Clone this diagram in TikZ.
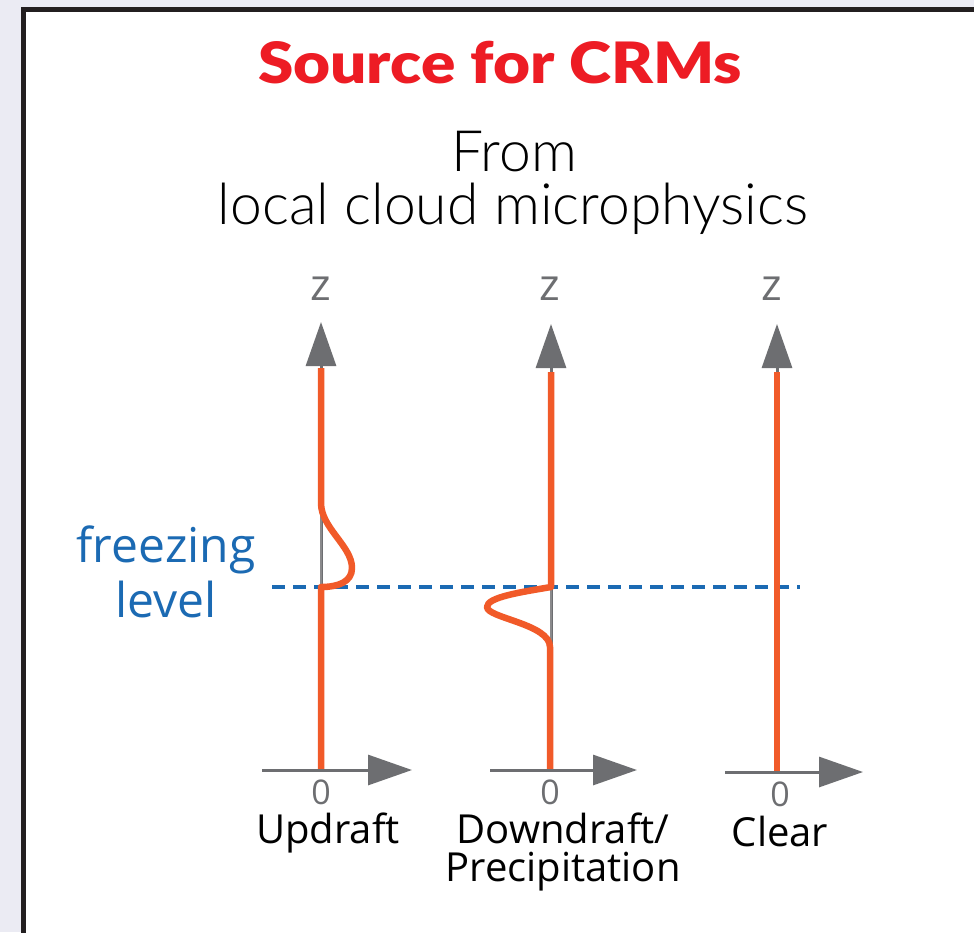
\documentclass[tikz,border=0pt]{standalone}
\usepackage{fontspec}
\usepackage{graphicx}
\usetikzlibrary{arrows.meta}
\newfontfamily\titlefont{Lato Black}
\newfontfamily\lightfont{Lato Light}
\newfontfamily\labelfont{Open Sans}
\definecolor{bgpanel}{HTML}{EBEBF3}
\definecolor{framecol}{HTML}{231F20}
\definecolor{titlered}{HTML}{ED1C24}
\definecolor{axisgray}{HTML}{6D6E71}
\definecolor{thingray}{HTML}{8A8A8C}
\definecolor{profileorange}{HTML}{F15A29}
\definecolor{freezeblue}{HTML}{1B6AB3}
\tikzset{
  axisline/.style={draw=axisgray, line width=3pt, -{Triangle[length=44pt,width=30pt]}},
  profile/.style={draw=profileorange, line width=6.5pt},
  refline/.style={draw=thingray, line width=2pt},
  freezeline/.style={draw=freezeblue, line width=4.5pt, dash pattern=on 13pt off 8pt},
  titletext/.style={inner sep=0pt, anchor=base, text=titlered, font=\titlefont\fontsize{57}{60}\selectfont},
  subtext/.style={inner sep=0pt, anchor=base, text=black, font=\lightfont\fontsize{57}{60}\selectfont},
  axislabel/.style={inner sep=0pt, anchor=base, text=axisgray, font=\labelfont\fontsize{44}{46}\selectfont},
  zerolabel/.style={inner sep=0pt, anchor=base, text=axisgray, font=\labelfont\fontsize{34}{36}\selectfont},
  caselabel/.style={inner sep=0pt, anchor=base, text=black, align=center, font=\labelfont\fontsize{40}{38}\selectfont},
  freezelabel/.style={inner sep=0pt, anchor=base, text=freezeblue, align=center, font=\labelfont\fontsize{48}{55}\selectfont}
}
\begin{document}
\begin{tikzpicture}[x=1pt,y=-1pt]
\useasboundingbox (0,0) rectangle (974,932);
% slide background and white panel
\fill[bgpanel] (0,0) rectangle (974,932);
\draw[line width=5pt, draw=framecol, fill=white] (23.5,9.8) rectangle (990,950);

% headings
\node[titletext] (title) at (500,83) {\scalebox{1.12}[1]{Source for CRMs}};
\node[subtext] (from) at (514,171) {From};
\node[subtext] (local) at (513,224) {local cloud microphysics};

% axis origins and tips
\coordinate (uo) at (321,770);  \coordinate (ut) at (321,322);
\coordinate (ux0) at (262,770); \coordinate (uxt) at (412,770);
\coordinate (do) at (551,770);  \coordinate (dt) at (551,324);
\coordinate (dx0) at (490,770); \coordinate (dxt) at (637,770);
\coordinate (co) at (777,772);  \coordinate (ct) at (777,324);
\coordinate (cx0) at (725,772); \coordinate (cxt) at (863,772);

% freezing level
\coordinate (fzL) at (272,587);
\coordinate (fzR) at (800,587);
\draw[freezeline] (fzL) -- (fzR);

% vertical axes
\draw[axisline] (uo) -- (ut);
\draw[axisline] (do) -- (dt);
\draw[axisline] (co) -- (ct);

% updraft profile: bulge just above the freezing level
\coordinate (ua) at (321,368);
\coordinate (ub) at (321,503);
\coordinate (uc) at (321,587);
\draw[refline] (ub) -- (uc);
\draw[profile, line join=round] (ua) -- (ub)
  .. controls (321,528) and (352,546) .. (352,568)
  .. controls (352,582) and (338,587) .. (uc) -- (uo);

% downdraft profile: bulge just below the freezing level
\coordinate (da) at (551,372);
\coordinate (db) at (551,587);
\coordinate (dc) at (550,647);
\draw[refline] (db) -- (551,647);
\draw[profile, line join=round] (da) -- (db)
  .. controls (522,592) and (487,597) .. (487,607)
  .. controls (487,618) and (550,624) .. (dc) -- (550,770);

% clear-sky profile
\coordinate (ca) at (777,372);
\draw[profile] (ca) -- (co);

% horizontal axes
\draw[axisline] (ux0) -- (uxt);
\draw[axisline] (dx0) -- (dxt);
\draw[axisline] (cx0) -- (cxt);

% axis labels
\node[axislabel] (zu) at (321,300) {z};
\node[axislabel] (zd) at (550,300) {z};
\node[axislabel] (zc) at (772,300) {z};
\node[zerolabel] (nu) at (321,804) {0};
\node[zerolabel] (nd) at (550,804) {0};
\node[zerolabel] (nc) at (780,806) {0};

% case labels (base anchor sits on the last line)
\node[caselabel] (lu) at (328,843) {Updraft};
\node[caselabel] (ld) at (563,881) {Downdraft/\\Precipitation};
\node[caselabel] (lc) at (780,846) {Clear};
\node[freezelabel] (fl) at (166,617) {freezing\\level};
\end{tikzpicture}
\end{document}
